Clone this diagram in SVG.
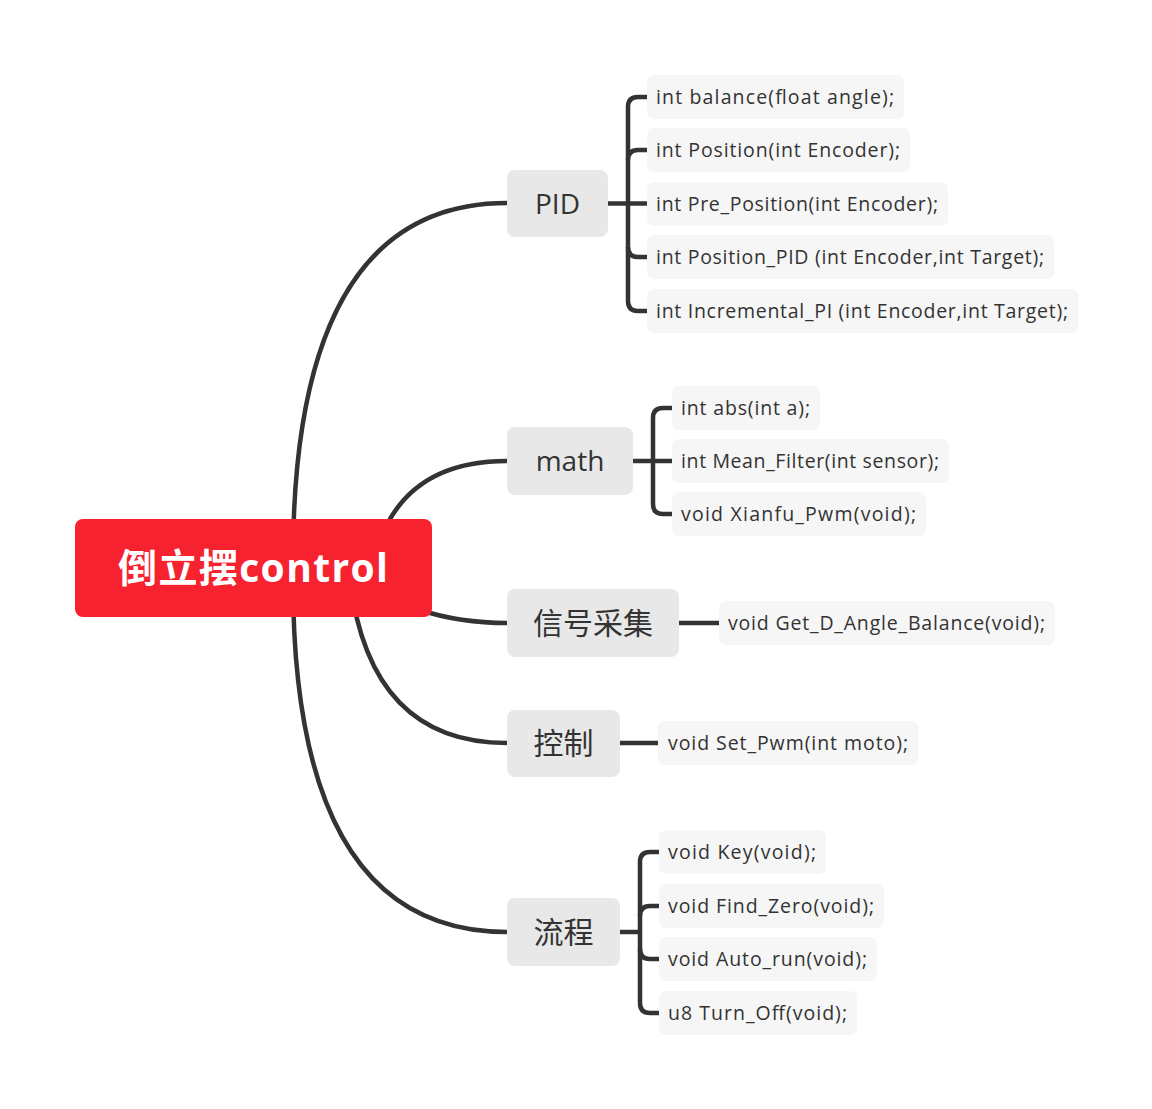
<svg xmlns="http://www.w3.org/2000/svg" width="1152" height="1109" viewBox="0 0 1152 1109">
<style>
.conn{fill:none;stroke:#333;stroke-width:4.5;stroke-linecap:butt}
.br{fill:#e8e8e8}
.lf{fill:#f6f6f6}
.bt{font-family:"Open Sans","Noto Sans CJK SC",sans-serif;font-size:28px;fill:#333;text-anchor:middle}
.bc{font-family:"Noto Sans CJK SC",sans-serif;font-size:30px;fill:#333;text-anchor:middle}
.lt{font-family:"Open Sans","Noto Sans CJK SC",sans-serif;font-size:19.5px;fill:#333}
.rt{font-family:"Open Sans","Noto Sans CJK SC",sans-serif;font-size:39px;font-weight:bold;fill:#fff}
</style>
<rect width="1152" height="1109" fill="#fff"/>
<g id="connectors">
<path class="conn" d="M293 560 Q293 203 507 203"/>
<path class="conn" d="M380 540 Q410 461 507 461"/>
<path class="conn" d="M420 610 Q460 623 507 623"/>
<path class="conn" d="M350 580 Q370 743 507 743"/>
<path class="conn" d="M293 580 Q293 932 507 932"/>
<path class="conn" d="M608 203.5 H647"/>
<path class="conn" d="M647 97 H638 Q628 97 628 107 V301 Q628 311 638 311 H647"/>
<path class="conn" d="M628 160 Q628 150 638 150 H647"/>
<path class="conn" d="M628 247 Q628 257 638 257 H647"/>
<path class="conn" d="M633 461 H672"/>
<path class="conn" d="M672 408 H663 Q653 408 653 418 V504 Q653 514 663 514 H672"/>
<path class="conn" d="M679 623 H719"/>
<path class="conn" d="M620 743 H658"/>
<path class="conn" d="M620 932 H640"/>
<path class="conn" d="M659 852 H650 Q640 852 640 862 V1003 Q640 1013 650 1013 H659"/>
<path class="conn" d="M640 916 Q640 906 650 906 H659"/>
<path class="conn" d="M640 949 Q640 959 650 959 H659"/>
</g>
<g id="root">
<rect x="75" y="519" width="357" height="98" rx="8" fill="#f72230"/>
<text class="rt" x="118" y="582" textLength="270">倒立摆control</text>
</g>
<g id="pid">
<rect class="br" x="507" y="170" width="101" height="67" rx="8"/>
<text class="bt" x="557.5" y="213.5">PID</text>
</g>
<g id="math">
<rect class="br" x="507" y="427" width="126" height="68" rx="8"/>
<text class="bt" x="570" y="471">math</text>
</g>
<g id="signal">
<rect class="br" x="507" y="589" width="172" height="68" rx="8"/>
<text class="bc" x="593" y="634">信号采集</text>
</g>
<g id="control">
<rect class="br" x="507" y="710" width="113" height="67" rx="8"/>
<text class="bc" x="563.5" y="754">控制</text>
</g>
<g id="flow">
<rect class="br" x="507" y="898" width="113" height="68" rx="8"/>
<text class="bc" x="563.5" y="943">流程</text>
</g>
<g id="pid-1"><rect class="lf" x="647" y="75" width="257" height="44" rx="7"/><text class="lt" x="656" y="104" textLength="238">int balance(float angle);</text></g>
<g id="pid-2"><rect class="lf" x="647" y="128" width="263" height="44" rx="7"/><text class="lt" x="656" y="157" textLength="244">int Position(int Encoder);</text></g>
<g id="pid-3"><rect class="lf" x="647" y="182" width="301" height="44" rx="7"/><text class="lt" x="656" y="211" textLength="282">int Pre_Position(int Encoder);</text></g>
<g id="pid-4"><rect class="lf" x="647" y="235" width="407" height="44" rx="7"/><text class="lt" x="656" y="264" textLength="388">int Position_PID (int Encoder,int Target);</text></g>
<g id="pid-5"><rect class="lf" x="647" y="289" width="431" height="44" rx="7"/><text class="lt" x="656" y="318" textLength="412">int Incremental_PI (int Encoder,int Target);</text></g>
<g id="math-1"><rect class="lf" x="672" y="386" width="148" height="44" rx="7"/><text class="lt" x="681" y="415" textLength="129">int abs(int a);</text></g>
<g id="math-2"><rect class="lf" x="672" y="439" width="277" height="44" rx="7"/><text class="lt" x="681" y="468" textLength="258">int Mean_Filter(int sensor);</text></g>
<g id="math-3"><rect class="lf" x="672" y="492" width="254" height="44" rx="7"/><text class="lt" x="681" y="521" textLength="235">void Xianfu_Pwm(void);</text></g>
<g id="signal-1"><rect class="lf" x="719" y="601" width="336" height="44" rx="7"/><text class="lt" x="728" y="630" textLength="317">void Get_D_Angle_Balance(void);</text></g>
<g id="control-1"><rect class="lf" x="658" y="721" width="260" height="44" rx="7"/><text class="lt" x="668" y="750" textLength="240">void Set_Pwm(int moto);</text></g>
<g id="flow-1"><rect class="lf" x="659" y="830" width="167" height="44" rx="7"/><text class="lt" x="668" y="859" textLength="148">void Key(void);</text></g>
<g id="flow-2"><rect class="lf" x="659" y="884" width="225" height="44" rx="7"/><text class="lt" x="668" y="913" textLength="206">void Find_Zero(void);</text></g>
<g id="flow-3"><rect class="lf" x="659" y="937" width="218" height="44" rx="7"/><text class="lt" x="668" y="966" textLength="199">void Auto_run(void);</text></g>
<g id="flow-4"><rect class="lf" x="659" y="991" width="198" height="44" rx="7"/><text class="lt" x="668" y="1020" textLength="179">u8 Turn_Off(void);</text></g>
</svg>
